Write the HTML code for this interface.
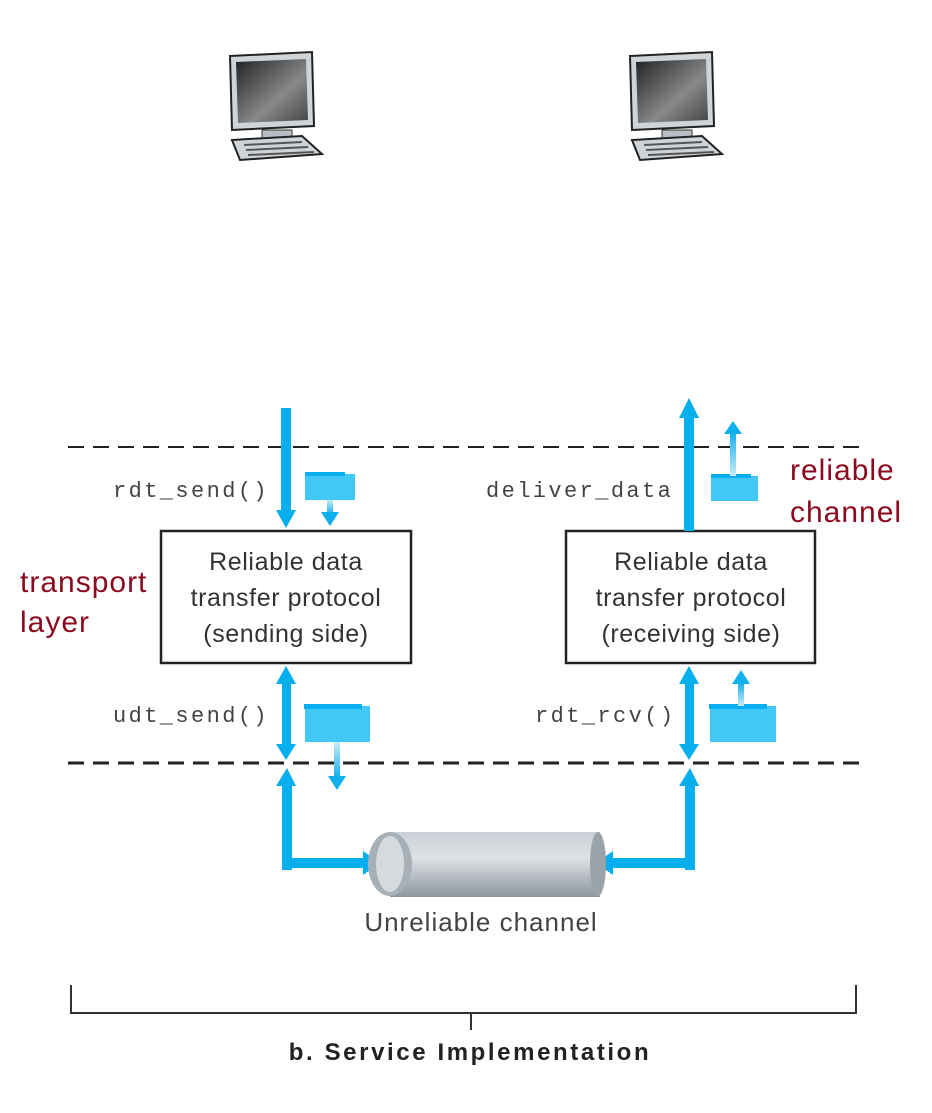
<!DOCTYPE html>
<html><head><meta charset="utf-8"><style>
html,body{margin:0;padding:0;background:#fff;}
svg{display:block;}
.m{font-family:"Liberation Mono",monospace;font-size:22px;letter-spacing:2.4px;fill:#444;}
.b{font-family:"Liberation Sans",sans-serif;font-size:25px;letter-spacing:0.6px;fill:#333;text-anchor:middle;}
.r{font-family:"Liberation Sans",sans-serif;font-size:30px;letter-spacing:1px;fill:#8b0a1e;}
</style></head><body>
<svg width="932" height="1113" viewBox="0 0 932 1113" xmlns="http://www.w3.org/2000/svg">
<defs>
<linearGradient id="scr" x1="0" y1="0" x2="1" y2="1"><stop offset="0" stop-color="#222"/><stop offset="0.6" stop-color="#888"/><stop offset="1" stop-color="#444"/></linearGradient>
<linearGradient id="cyl" x1="0" y1="0" x2="0" y2="1"><stop offset="0" stop-color="#c9d0d6"/><stop offset="0.4" stop-color="#dde1e4"/><stop offset="1" stop-color="#8c969e"/></linearGradient>
<linearGradient id="fu" x1="0" y1="1" x2="0" y2="0"><stop offset="0" stop-color="#c8ecfa"/><stop offset="1" stop-color="#10b0ee"/></linearGradient>
<linearGradient id="fd" x1="0" y1="0" x2="0" y2="1"><stop offset="0" stop-color="#c8ecfa"/><stop offset="1" stop-color="#10b0ee"/></linearGradient>
<g id="pc">
<path d="M8 6 L90 2 L92 76 L10 80 Z" fill="#cfd4d8" stroke="#222" stroke-width="2"/>
<path d="M14 12 L84 9 L86 70 L16 73 Z" fill="url(#scr)"/>
<rect x="40" y="80" width="30" height="8" fill="#b8bec4" stroke="#333"/>
<path d="M10 90 L80 86 L100 104 L18 110 Z" fill="#cfd4d8" stroke="#222" stroke-width="2"/>
<path d="M22 95 L80 92 M24 100 L86 97 M26 105 L92 102" stroke="#555" stroke-width="2"/>
</g>
</defs>
<use href="#pc" x="222" y="50"/>
<use href="#pc" x="622" y="50"/>

<g stroke="#222" stroke-width="2" stroke-dasharray="16,9"><line x1="68" y1="447" x2="862" y2="447"/></g>
<g stroke="#222" stroke-width="3" stroke-dasharray="16,9"><line x1="68" y1="763" x2="862" y2="763"/></g>

<rect x="161" y="531" width="250" height="132" fill="#fff" stroke="#222" stroke-width="2.5"/>
<rect x="566" y="531" width="249" height="132" fill="#fff" stroke="#222" stroke-width="2.5"/>
<text class="b" x="286" y="570">Reliable data</text>
<text class="b" x="286" y="606">transfer protocol</text>
<text class="b" x="286" y="642">(sending side)</text>
<text class="b" x="691" y="570">Reliable data</text>
<text class="b" x="691" y="606">transfer protocol</text>
<text class="b" x="691" y="642">(receiving side)</text>

<text class="m" x="113" y="497">rdt_send()</text>
<text class="m" x="486" y="497">deliver_data</text>
<text class="m" x="113" y="722">udt_send()</text>
<text class="m" x="535" y="722">rdt_rcv()</text>

<text class="r" x="20" y="592">transport</text>
<text class="r" x="20" y="632">layer</text>
<text class="r" x="790" y="480">reliable</text>
<text class="r" x="790" y="522">channel</text>

<g fill="#05aeed">
<rect x="281" y="408" width="10" height="104"/>
<polygon points="276,510 296,510 286,528"/>
<rect x="684" y="415" width="10" height="116"/>
<polygon points="679,418 699,418 689,398"/>
<rect x="282" y="682" width="9" height="64"/>
<polygon points="276,684 296,684 286,666"/><polygon points="276,744 296,744 286,760"/>
<rect x="685" y="682" width="9" height="64"/>
<polygon points="679,684 699,684 689,666"/><polygon points="679,744 699,744 689,760"/>
<rect x="282" y="785" width="10" height="85"/>
<polygon points="276,786 296,786 287,768"/>
<rect x="282" y="858" width="85" height="10"/>
<polygon points="363,851 363,875 380,863"/>
<rect x="685" y="785" width="10" height="85"/>
<polygon points="679,786 699,786 690,768"/>
<rect x="610" y="858" width="85" height="10"/>
<polygon points="613,851 613,875 596,863"/>
</g>
<g fill="#42c8f4">
<rect x="305" y="474" width="50" height="26"/>
<rect x="711" y="476" width="47" height="25"/>
<rect x="305" y="706" width="65" height="36"/>
<rect x="710" y="706" width="66" height="36"/>
</g>
<g fill="#08aeee"><rect x="305" y="472" width="40" height="4"/><rect x="711" y="474" width="40" height="4"/><rect x="304" y="704" width="58" height="5"/><rect x="709" y="704" width="58" height="5"/></g>
<rect x="327" y="500" width="6" height="14" fill="url(#fd)"/><polygon points="321,512 339,512 330,526" fill="#10b0ee"/>
<rect x="730" y="432" width="6" height="44" fill="url(#fu)"/><polygon points="724,434 742,434 733,421" fill="#10b0ee"/>
<rect x="334" y="742" width="6" height="36" fill="url(#fd)"/><polygon points="328,776 346,776 337,790" fill="#10b0ee"/>
<rect x="738" y="682" width="6" height="24" fill="url(#fu)"/><polygon points="732,684 750,684 741,670" fill="#10b0ee"/>

<rect x="390" y="832" width="210" height="65" fill="url(#cyl)"/>
<ellipse cx="598" cy="864" rx="8" ry="32" fill="#9aa3aa"/>
<ellipse cx="390" cy="864" rx="22" ry="32" fill="#a7b0b7"/>
<ellipse cx="390" cy="864" rx="14" ry="28" fill="#d6dadd"/>
<text class="b" x="481" y="931" style="fill:#444;font-size:26px;letter-spacing:1px">Unreliable channel</text>

<path d="M71 985 V1013 H856 V985 M471 1013 V1030" fill="none" stroke="#333" stroke-width="2"/>
<text x="470" y="1060" style="font-family:'Liberation Sans',sans-serif;font-size:24px;letter-spacing:2.6px;font-weight:bold;fill:#222;text-anchor:middle">b. Service Implementation</text>
</svg>
</body></html>
